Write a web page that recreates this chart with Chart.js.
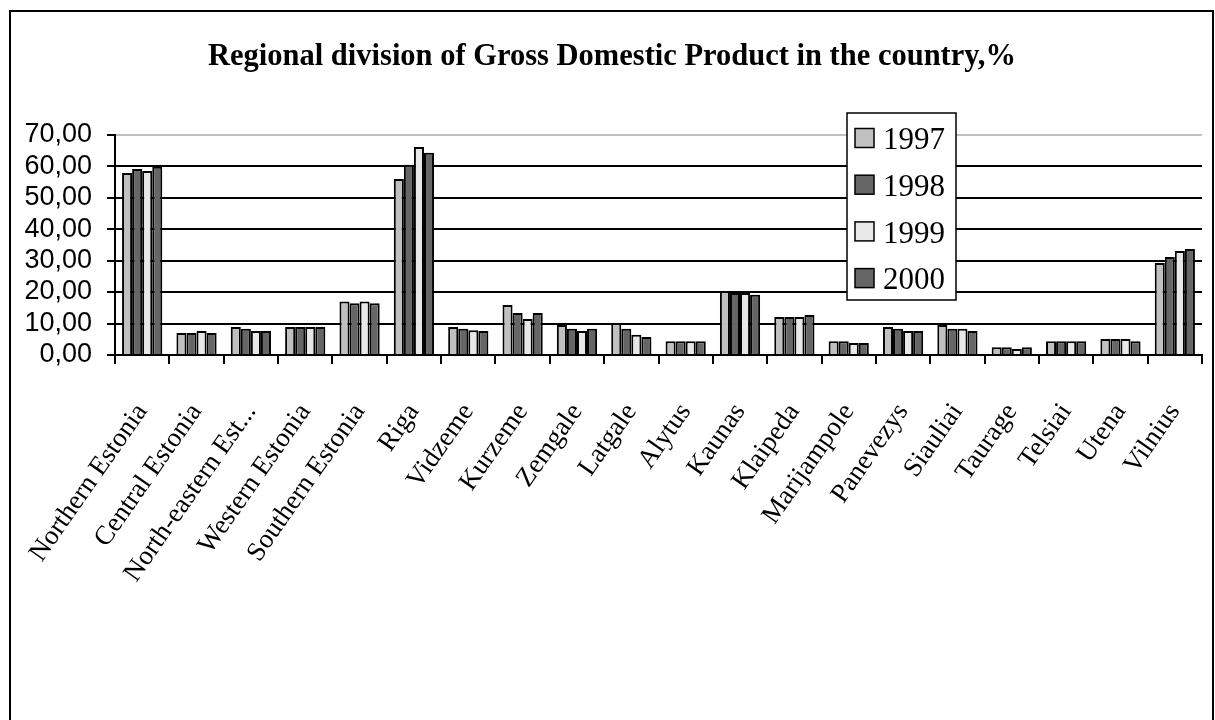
<!DOCTYPE html>
<html>
<head>
<meta charset="utf-8">
<script src="https://cdn.jsdelivr.net/npm/chart.js@4.4.1/dist/chart.umd.min.js"></script>
<style>
  html, body { margin: 0; padding: 0; background: #ffffff; }
  #wrap { width: 1215px; height: 720px; }
</style>
</head>
<body>
<div id="wrap"><canvas id="c" width="1215" height="720"></canvas></div>
<script>
const categories = ["Northern Estonia","Central Estonia","North-eastern Est...","Western Estonia","Southern Estonia","Riga","Vidzeme","Kurzeme","Zemgale","Latgale","Alytus","Kaunas","Klaipeda","Marijampole","Panevezys","Siauliai","Taurage","Telsiai","Utena","Vilnius"];
const seriesNames = ["1997","1998","1999","2000"];
const v1997 = [57.8, 7.0, 8.9, 8.9, 17.0, 55.9, 8.9, 15.9, 9.5, 10.2, 4.4, 20.3, 12.1, 4.4, 8.9, 9.5, 2.5, 4.4, 5.1, 29.2];
const v1998 = [59.1, 7.0, 8.3, 8.9, 16.4, 60.4, 8.3, 13.3, 8.3, 8.3, 4.4, 19.7, 12.1, 4.4, 8.3, 8.3, 2.5, 4.4, 5.1, 31.1];
const v1999 = [58.4, 7.6, 7.6, 8.9, 17.0, 66.1, 7.9, 11.4, 7.6, 6.4, 4.4, 19.7, 12.1, 3.8, 7.6, 8.3, 1.9, 4.4, 5.1, 33.0];
const v2000 = [59.8, 7.0, 7.6, 8.9, 16.4, 64.2, 7.6, 13.3, 8.3, 5.7, 4.4, 19.1, 12.7, 3.8, 7.6, 7.6, 2.5, 4.4, 4.4, 33.7];
const yTicks = [0, 10, 20, 30, 40, 50, 60, 70];
const seriesColors = ["#c0c0c0", "#666666", "#e8e8e8", "#666666"];

const allValues = [v1997, v1998, v1999, v2000];

const bgPlugin = {
  id: 'bg',
  beforeDraw(chart) {
    const ctx = chart.ctx;
    ctx.save();
    ctx.fillStyle = '#ffffff';
    ctx.fillRect(0, 0, chart.width, chart.height);
    ctx.restore();
  }
};

const boxLegendPlugin = {
  id: 'boxLegend',
  afterDraw(chart) {
    const ctx = chart.ctx;
    const L = 847, T = 113, W = 109, H = 187;
    ctx.save();
    ctx.fillStyle = '#ffffff';
    ctx.fillRect(L, T, W, H);
    ctx.lineWidth = 1.5;
    ctx.strokeStyle = '#000000';
    ctx.strokeRect(L, T, W, H);
    ctx.font = '31px "Liberation Serif", "Times New Roman", serif';
    ctx.textBaseline = 'middle';
    ctx.textAlign = 'left';
    chart.data.datasets.forEach((ds, i) => {
      const cy = 138 + i * 46.7;
      ctx.fillStyle = ds.backgroundColor;
      ctx.fillRect(855, cy - 9.5, 19, 19);
      ctx.lineWidth = 1.5;
      ctx.strokeStyle = '#000000';
      ctx.strokeRect(855, cy - 9.5, 19, 19);
      ctx.fillStyle = '#000000';
      ctx.fillText(ds.label, 883, cy + 3);
    });
    // outer chart border
    ctx.lineWidth = 2;
    ctx.strokeStyle = '#000000';
    ctx.strokeRect(10, 11, 1203, 730);
    ctx.restore();
  }
};

new Chart(document.getElementById('c'), {
  type: 'bar',
  data: {
    labels: categories,
    datasets: seriesNames.map((name, i) => ({
      label: name,
      data: allValues[i],
      backgroundColor: seriesColors[i],
      borderColor: '#000000',
      borderWidth: 2,
      borderSkipped: 'bottom',
      categoryPercentage: 0.74,
      barPercentage: 1.0
    }))
  },
  options: {
    responsive: false,
    devicePixelRatio: 1,
    animation: false,
    layout: { padding: { left: 22, right: 13, top: 0, bottom: 0 } },
    plugins: {
      legend: { display: false },
      tooltip: { enabled: false },
      title: {
        display: true,
        text: 'Regional division of Gross Domestic Product in the country,%',
        color: '#000000',
        font: { family: '"Liberation Serif", "Times New Roman", serif', size: 30.5, weight: 'bold', lineHeight: 1.2 },
        padding: { top: 39, bottom: 59 }
      }
    },
    scales: {
      x: {
        afterFit(scale) { scale.height = 365; scale.paddingLeft = 0; scale.paddingRight = 0; },
        border: { display: true, color: '#000000', width: 2 },
        grid: {
          offset: true,
          drawOnChartArea: false,
          drawTicks: true,
          tickLength: 9,
          color: '#000000',
          tickColor: '#000000',
          lineWidth: 2
        },
        ticks: {
          autoSkip: false,
          minRotation: 55,
          maxRotation: 55,
          padding: 39,
          color: '#000000',
          font: { family: '"Liberation Serif", "Times New Roman", serif', size: 27, lineHeight: 0.5 }
        }
      },
      y: {
        min: 0,
        max: 70,
        afterFit(scale) { scale.width = 93; },
        afterBuildTicks(scale) { scale.ticks = yTicks.map(v => ({ value: v })); },
        border: { display: true, color: '#000000', width: 2 },
        grid: {
          drawTicks: true,
          tickLength: 8,
          lineWidth: 2,
          color: (ctx) => (ctx.tick && ctx.tick.value === 70) ? '#c0c0c0' : '#000000',
          tickColor: '#000000'
        },
        ticks: {
          autoSkip: false,
          padding: 15,
          color: '#000000',
          font: { family: '"Liberation Sans", Arial, sans-serif', size: 27 },
          callback: (v) => Number(v).toFixed(2).replace('.', ',')
        }
      }
    }
  },
  plugins: [bgPlugin, boxLegendPlugin]
});
</script>
</body>
</html>
